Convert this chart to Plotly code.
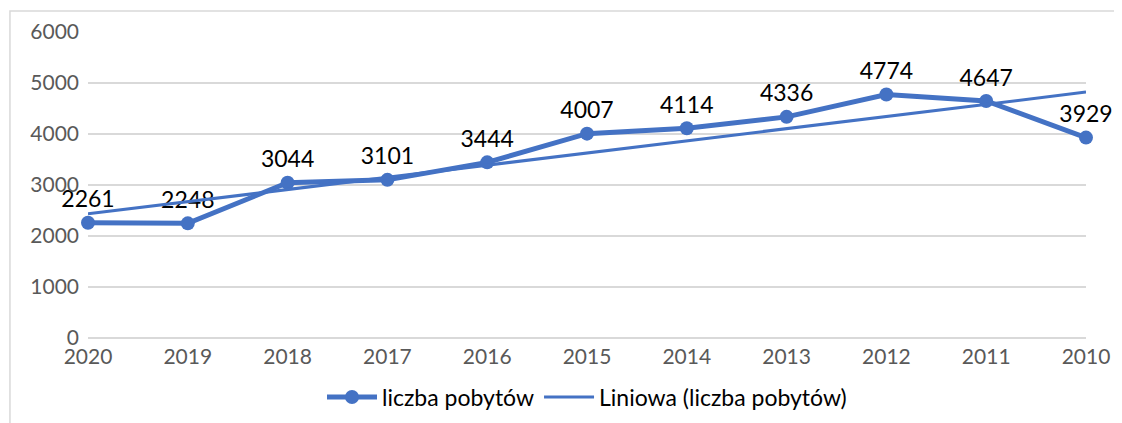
import numpy as np
import plotly.graph_objects as go

years = ["2020", "2019", "2018", "2017", "2016", "2015", "2014", "2013", "2012", "2011", "2010"]
stays = [2261, 2248, 3044, 3101, 3444, 4007, 4114, 4336, 4774, 4647, 3929]
series_name = "liczba pobytów"
trend_name = "Liniowa (liczba pobytów)"

color = "#4472C4"
idx = np.arange(1, len(stays) + 1)
slope, intercept = np.polyfit(idx, stays, 1)
trend = slope * idx + intercept

FONT = "Lato, Liberation Sans, Arial"

fig = go.Figure()
fig.add_trace(go.Scatter(
    x=years, y=stays, name=series_name,
    mode="lines+markers+text",
    line=dict(color=color, width=5),
    marker=dict(color=color, size=14),
    text=[str(v) for v in stays], textposition="top center",
    textfont=dict(family=FONT, size=23, color="#000000"),
    cliponaxis=False,
))
fig.add_trace(go.Scatter(
    x=years, y=trend, name=trend_name, mode="lines",
    line=dict(color=color, width=3),
    cliponaxis=False,
))

fig.update_layout(
    width=1114, height=415,
    margin=dict(l=80, r=36, t=24, b=85, autoexpand=False),
    paper_bgcolor="white", plot_bgcolor="white",
    font=dict(family=FONT, color="#595959", size=21),
    showlegend=True,
    legend=dict(orientation="h", x=0.5, xanchor="center", y=-0.193, yanchor="middle",
                font=dict(family=FONT, size=23, color="#000000"), itemwidth=50, traceorder="normal"),
    shapes=[dict(type="rect", xref="paper", yref="paper",
                 x0=-0.0782, x1=1.04, y0=-0.35, y1=1.0686,
                 line=dict(color="#D9D9D9", width=1.5), fillcolor="rgba(0,0,0,0)", layer="below")],
)
fig.update_xaxes(type="category", range=[0, len(years) - 1], showgrid=False,
                 showline=False, ticks="", ticklabelstandoff=4,
                 tickfont=dict(family=FONT, size=21, color="#595959"),
                 automargin=False)
fig.update_yaxes(range=[0, 6000], dtick=1000, showgrid=True, gridcolor="#D9D9D9", gridwidth=1.5,
                 zeroline=True, zerolinecolor="#D9D9D9", zerolinewidth=1.5,
                 showline=False, ticks="", ticklabelstandoff=8, automargin=False,
                 tickfont=dict(family=FONT, size=21, color="#595959"))

fig.write_html("out.html")
